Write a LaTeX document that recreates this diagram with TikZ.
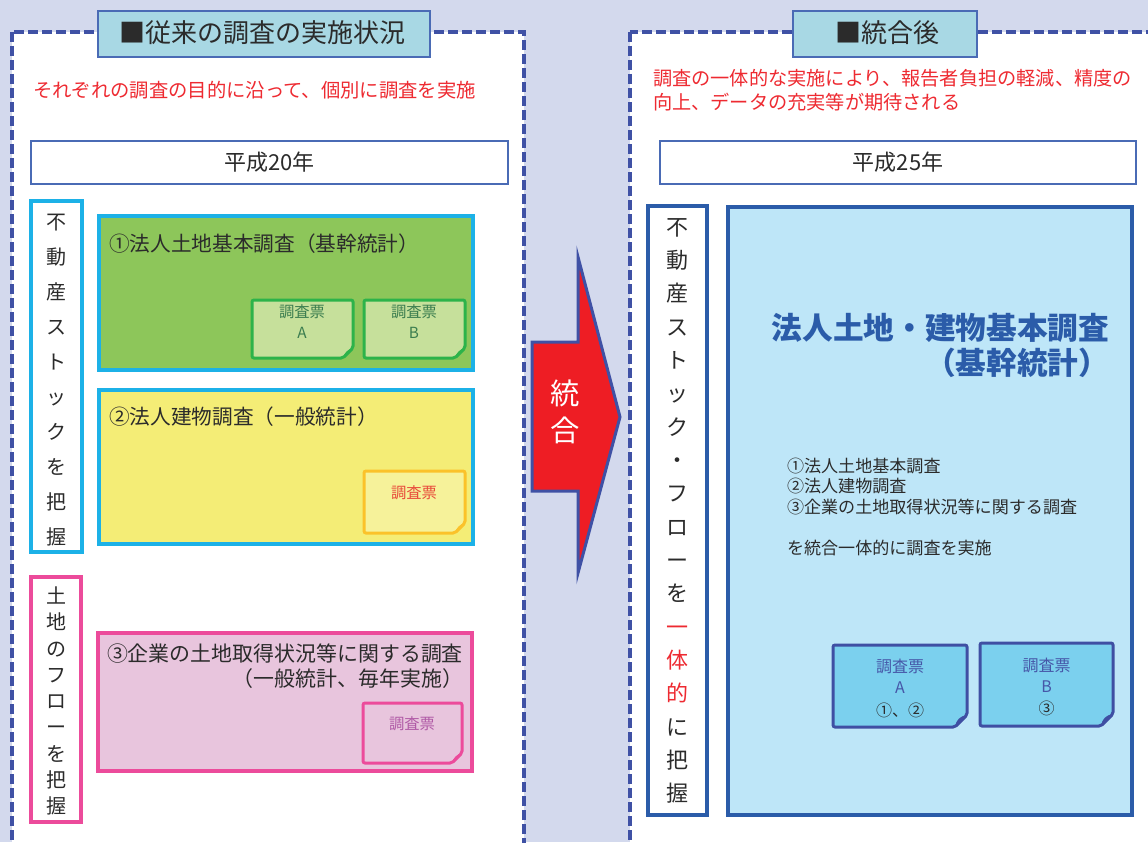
\documentclass[tikz,border=0pt]{standalone}
\usepackage{fontspec}
\setmainfont{Noto Sans CJK JP}
\definecolor{bgc}{HTML}{D3D9ED}
\definecolor{dashblue}{HTML}{3F51A5}
\definecolor{titlefill}{HTML}{A8D8E4}
\definecolor{titleborder}{HTML}{4A6BB5}
\definecolor{redtxt}{HTML}{EE2A31}
\definecolor{txt}{HTML}{2B2B2B}
\definecolor{cyanb}{HTML}{1CB1E7}
\definecolor{greenfill}{HTML}{8DC65A}
\definecolor{gcardfill}{HTML}{C6E09B}
\definecolor{gcardb}{HTML}{2DB34A}
\definecolor{gcardtxt}{HTML}{3B7D4F}
\definecolor{yelfill}{HTML}{F4ED76}
\definecolor{ycardfill}{HTML}{F6F29A}
\definecolor{ycardb}{HTML}{FBC22A}
\definecolor{ycardtxt}{HTML}{E84A3A}
\definecolor{pinkb}{HTML}{EC4B9B}
\definecolor{pinkfill}{HTML}{E8C5DD}
\definecolor{pcardtxt}{HTML}{B05AA6}
\definecolor{arrowred}{HTML}{EE1D24}
\definecolor{colblue}{HTML}{2B5CA9}
\definecolor{bigfill}{HTML}{BEE6F8}
\definecolor{bcardfill}{HTML}{7BD0EE}
\definecolor{bcardb}{HTML}{3F4FA3}
\definecolor{bcardtxt}{HTML}{4657A8}
\newcommand\mycard[7]{%
  % #1 x1, #2 y1, #3 x2, #4 y2, #5 fill, #6 border, #7 fold
  \draw[line width=2.25pt, draw=#6, fill=#5, rounded corners=1.5pt]
    (#1,#2) -- (#3,#2) -- (#3,#4-#7) -- (#3-#7,#4) -- (#1,#4) -- cycle;
  \fill[#6] (#3,#4-#7) -- (#3-#7,#4) .. controls (#3-#7+1,#4-#7+5) and (#3-#7+5,#4-#7+1) .. cycle;
}
\tikzset{
  panel/.style={draw=dashblue, line width=2.6pt, dash pattern=on 7.5pt off 3pt, fill=white},
  titlebox/.style={draw=titleborder, line width=0.9pt, fill=titlefill},
  yearbox/.style={draw=titleborder, line width=0.9pt, fill=white},
  colbox/.style={line width=2.6pt, fill=white},
  bigbox/.style={line width=2.4pt, draw=cyanb},
  lbl/.style={inner sep=0pt, outer sep=0pt, text=txt},
}
\begin{document}
\begin{tikzpicture}[x=0.75pt,y=-0.75pt]
\useasboundingbox (0,0) rectangle (1148,842);
\clip (0,0) rectangle (1148,842);
\fill[bgc] (0,0) rectangle (1148,842);
% panels
\draw[panel] (12,32) rectangle (524,870);
\draw[panel] (630,32) rectangle (1175,870);
% titles
\draw[titlebox] (98,11) rectangle (430,57);
\node[lbl, font=\fontsize{19.5pt}{23pt}\selectfont] (t1) at (262,33) {■従来の調査の実施状況};
\draw[titlebox] (793,11) rectangle (977,57);
\node[lbl, font=\fontsize{19.5pt}{23pt}\selectfont] (t2) at (887,33) {■統合後};
% red texts
\node[lbl, anchor=west, text=redtxt, font=\fontsize{14.5pt}{17pt}\selectfont] (r1) at (33,90) {それぞれの調査の目的に沿って、個別に調査を実施};
\node[lbl, anchor=west, align=left, text=redtxt, font=\fontsize{14.4pt}{18pt}\selectfont] (r2) at (653,90) {調査の一体的な実施により、報告者負担の軽減、精度の\\向上、データの充実等が期待される};
% year boxes
\draw[yearbox] (31,141) rectangle (508,184);
\node[lbl, font=\fontsize{16.5pt}{20pt}\selectfont] (y1) at (269.5,162.5) {平成20年};
\draw[yearbox] (660,141) rectangle (1136,184);
\node[lbl, font=\fontsize{16.5pt}{20pt}\selectfont] (y2) at (898,162.5) {平成25年};
% stock column
\draw[colbox, draw=cyanb] (31,201) rectangle (82,552);
\node[lbl, align=center, font=\fontsize{15pt}{26.2pt}\selectfont] (sc) at (56,380) {不\\動\\産\\ス\\ト\\ッ\\ク\\を\\把\\握};
% green box
\draw[bigbox, fill=greenfill] (99,216) rectangle (473,370);
\node[lbl, anchor=west, font=\fontsize{15.5pt}{18pt}\selectfont] (g1) at (109,244) {①法人土地基本調査（基幹統計）};
\mycard{252}{300}{353}{358}{gcardfill}{gcardb}{10}
\mycard{364}{300}{465}{358}{gcardfill}{gcardb}{10}
\node[lbl, text=gcardtxt, font=\fontsize{11.5pt}{14pt}\selectfont] (ga1) at (302,312) {調査票};
\node[lbl, text=gcardtxt, font=\fontsize{11.5pt}{14pt}\selectfont] (ga2) at (302,333) {A};
\node[lbl, text=gcardtxt, font=\fontsize{11.5pt}{14pt}\selectfont] (gb1) at (414,312) {調査票};
\node[lbl, text=gcardtxt, font=\fontsize{11.5pt}{14pt}\selectfont] (gb2) at (414,333) {B};
% yellow box
\draw[bigbox, fill=yelfill] (99,390) rectangle (473,544);
\node[lbl, anchor=west, font=\fontsize{15.5pt}{18pt}\selectfont] (y3) at (109,417) {②法人建物調査（一般統計）};
\mycard{364}{471}{465}{533}{ycardfill}{ycardb}{10}
\node[lbl, text=ycardtxt, font=\fontsize{11.5pt}{14pt}\selectfont] (yc) at (414,493) {調査票};
% flow column
\draw[colbox, draw=pinkb] (31,577) rectangle (81,822);
\node[lbl, align=center, font=\fontsize{15pt}{19.7pt}\selectfont] (fc) at (56,701) {土\\地\\の\\フ\\ロ\\ー\\を\\把\\握};
% pink box
\draw[line width=2.4pt, draw=pinkb, fill=pinkfill] (98,633) rectangle (472,771);
\node[lbl, anchor=west, font=\fontsize{15.7pt}{18pt}\selectfont] (p1) at (107,654) {③企業の土地取得状況等に関する調査};
\node[lbl, anchor=east, font=\fontsize{15.7pt}{18pt}\selectfont] (p2) at (463,679) {（一般統計、毎年実施）};
\mycard{363}{703}{462}{763}{pinkfill}{pinkb}{10}
\node[lbl, text=pcardtxt, font=\fontsize{11.5pt}{14pt}\selectfont] (pc) at (412,724) {調査票};
% arrow
\draw[line width=2.25pt, draw=dashblue, fill=arrowred, line join=miter]
  (532,342) -- (578,342) -- (578,257) -- (620,417) -- (578,573) -- (578,491) -- (532,491) -- cycle;
\node[lbl, text=white, align=center, font=\fontsize{22pt}{27.7pt}\selectfont] (ar) at (565,412) {統\\合};
% right column
\draw[colbox, draw=colblue] (648,206) rectangle (707,815);
\node[lbl, align=center, font=\fontsize{16.5pt}{25pt}\selectfont] (rc) at (677.5,511) {不\\動\\産\\ス\\ト\\ッ\\ク\\・\\フ\\ロ\\ー\\を\\\textcolor{redtxt}{一}\\\textcolor{redtxt}{体}\\\textcolor{redtxt}{的}\\に\\把\\握};
% big box
\draw[line width=2.6pt, draw=colblue, fill=bigfill] (728,207) rectangle (1132,815);
\node[lbl, anchor=east, align=right, text=colblue, font=\bfseries\fontsize{23pt}{26.3pt}\selectfont] (bt) at (1109,345) {法人土地・建物基本調査\\（基幹統計）};
\node[lbl, anchor=west, align=left, font=\fontsize{12.8pt}{15.4pt}\selectfont] (bl) at (787,507) {①法人土地基本調査\\②法人建物調査\\③企業の土地取得状況等に関する調査\\\mbox{}\\を統合一体的に調査を実施};
\mycard{833}{645}{967}{727}{bcardfill}{bcardb}{12}
\mycard{980}{643}{1113}{726}{bcardfill}{bcardb}{12}
\node[lbl, text=bcardtxt, font=\fontsize{12pt}{14pt}\selectfont] (ba1) at (900,666) {調査票};
\node[lbl, text=bcardtxt, font=\fontsize{12pt}{14pt}\selectfont] (ba2) at (900,688) {A};
\node[lbl, text=txt, font=\fontsize{12pt}{14pt}\selectfont] (ba3) at (900,710) {①、②};
\node[lbl, text=bcardtxt, font=\fontsize{12pt}{14pt}\selectfont] (bb1) at (1046.5,665) {調査票};
\node[lbl, text=bcardtxt, font=\fontsize{12pt}{14pt}\selectfont] (bb2) at (1046.5,687) {B};
\node[lbl, text=txt, font=\fontsize{12pt}{14pt}\selectfont] (bb3) at (1046.5,708) {③};
\end{tikzpicture}
\end{document}
